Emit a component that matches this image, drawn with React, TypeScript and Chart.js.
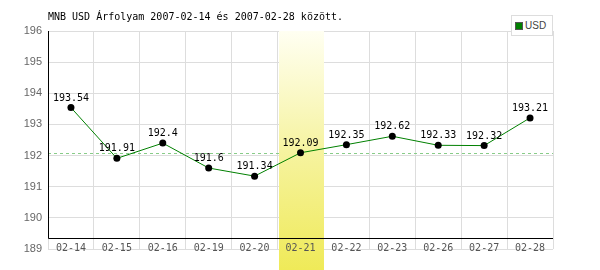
import React, { useEffect, useRef } from "react";
import { Chart, registerables } from "chart.js";

Chart.register(...registerables);

const categories = ["02-14", "02-15", "02-16", "02-19", "02-20", "02-21", "02-22", "02-23", "02-26", "02-27", "02-28"];
const usdValues = [193.54, 191.91, 192.4, 191.6, 191.34, 192.09, 192.35, 192.62, 192.33, 192.32, 193.21];
const referenceLevel = 192.07;
const highlightCategory = "02-21";
const yMin = 189;
const yMax = 196;
const titleText = "MNB USD Árfolyam 2007-02-14 és 2007-02-28 között.";
const seriesName = "USD";

const MONO = "'DejaVu Sans Mono', 'Liberation Mono', monospace";

const overlayPlugin = {
  id: "overlay",
  beforeDatasetsDraw(chart: any) {
    const { ctx, chartArea, scales } = chart;
    const x = scales.x;
    const y = scales.y;
    ctx.save();
    const ry = Math.round(y.getPixelForValue(referenceLevel)) + 0.5;
    ctx.strokeStyle = "#88cc88";
    ctx.lineWidth = 1;
    ctx.setLineDash([3, 3]);
    ctx.beginPath();
    ctx.moveTo(chartArea.left, ry);
    ctx.lineTo(chartArea.right, ry);
    ctx.stroke();
    ctx.setLineDash([]);
    const idx = categories.indexOf(highlightCategory);
    const cx = x.getPixelForValue(idx);
    const half = (x.getPixelForValue(1) - x.getPixelForValue(0)) / 2;
    const left = Math.round(cx - half) + 1;
    const right = Math.round(cx + half) + 1;
    const grad = ctx.createLinearGradient(0, chartArea.top, 0, chart.height);
    grad.addColorStop(0, "#fffff2");
    grad.addColorStop(0.5, "#f6f3a0");
    grad.addColorStop(1, "#efea58");
    ctx.fillStyle = grad;
    ctx.fillRect(left, chartArea.top, right - left, chart.height - chartArea.top);
    const by = chartArea.bottom - 11 + 0.5;
    ctx.strokeStyle = "#000";
    ctx.beginPath();
    ctx.moveTo(chartArea.left + 0.5, chartArea.top);
    ctx.lineTo(chartArea.left + 0.5, by);
    ctx.lineTo(chartArea.right, by);
    ctx.stroke();
    ctx.restore();
  },
  afterDatasetsDraw(chart: any) {
    const { ctx } = chart;
    const meta = chart.getDatasetMeta(0);
    ctx.save();
    ctx.font = "10px " + MONO;
    ctx.fillStyle = "#000";
    ctx.textAlign = "center";
    ctx.textBaseline = "alphabetic";
    meta.data.forEach((pt: any, i: number) => {
      ctx.fillText(String(usdValues[i]), pt.x, pt.y - 7);
    });
    ctx.restore();
  },
};

export default function App() {
  const ref = useRef<HTMLCanvasElement | null>(null);
  useEffect(() => {
    document.body.style.margin = "0";
    const chart = new Chart(ref.current!, {
      type: "line",
      data: {
        labels: categories,
        datasets: [
          {
            label: seriesName,
            data: usdValues,
            borderColor: "#008000",
            borderWidth: 1,
            pointRadius: 3.5,
            pointBackgroundColor: "#000",
            pointBorderWidth: 0,
            tension: 0,
          },
        ],
      },
      options: {
        animation: false,
        responsive: false,
        layout: { padding: { left: 0, right: 47, top: 0, bottom: 0 } },
        plugins: {
          legend: { display: false },
          tooltip: { enabled: false },
          title: {
            display: true,
            text: titleText,
            align: "start",
            fullSize: false,
            color: "#000",
            font: { family: MONO, size: 10, weight: "normal" },
            padding: { top: 11, bottom: 8 },
          },
        },
        scales: {
          x: {
            offset: true,
            grid: { offset: true, color: "#dddddd", drawTicks: false },
            border: { display: false },
            ticks: { z: 1, mirror: true, padding: -5, color: "#555", font: { family: MONO, size: 10 }, maxRotation: 0, autoSkip: false },
            afterFit: (s: any) => { s.height = 21; },
          },
          y: {
            min: yMin,
            max: yMax,
            grid: { color: "#dddddd", drawTicks: false },
            border: { display: false },
            ticks: { stepSize: 1, padding: 6, color: "#666", font: { family: "'Liberation Sans', Arial, sans-serif", size: 11 } },
            afterFit: (s: any) => { s.width = 48; },
          },
        },
      },
      plugins: [overlayPlugin],
    });
    return () => chart.destroy();
  }, []);
  return (
    <div style={{ position: "relative", width: 600, height: 270 }}>
      <canvas ref={ref} width={600} height={270} style={{ display: "block" }} />
      <div
        style={{
          position: "absolute",
          left: 511,
          top: 15,
          width: 40,
          height: 19,
          border: "1px solid #dddddd",
          background: "#fff",
          display: "flex",
          alignItems: "center",
          fontFamily: "'Liberation Sans', Arial, sans-serif",
          fontSize: 10,
          color: "#444",
        }}
      >
        <span style={{ display: "inline-block", width: 6, height: 6, background: "#008000", border: "1px solid #555", marginLeft: 3, marginRight: 2 }} />
        <span>{seriesName}</span>
      </div>
    </div>
  );
}
